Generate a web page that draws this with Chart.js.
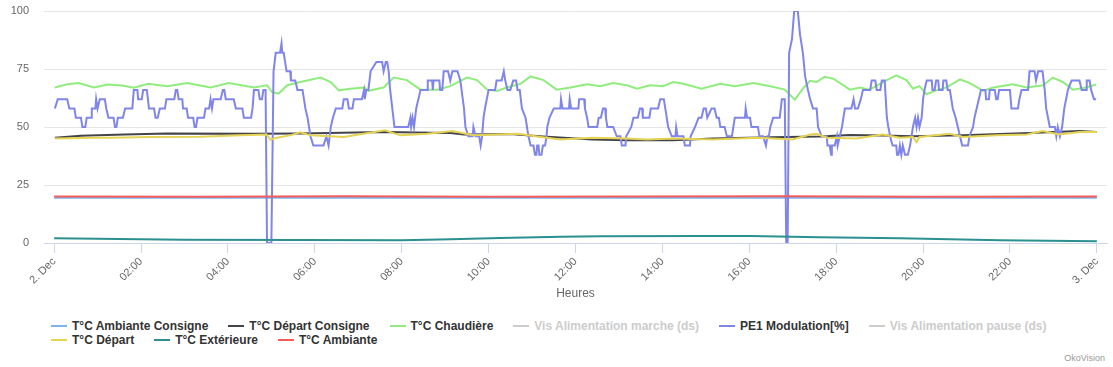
<!DOCTYPE html>
<html lang="fr">
<head>
<meta charset="UTF-8">
<title>OkoVision</title>
<script src="https://cdn.jsdelivr.net/npm/chart.js"></script>
<style>
    body { margin: 0; background: #fff; font-family: "Liberation Sans", Arial, sans-serif; }
    #wrap { position: relative; width: 1113px; height: 367px; overflow: hidden; }
    #chart { position: absolute; left: 0; top: 0; }
    #legend { position: absolute; left: 51px; top: 319px; }
    .row { display: flex; height: 14px; align-items: center; }
    .item { display: flex; align-items: center; margin-right: 20px; font-size: 12px; font-weight: bold; color: #333; white-space: nowrap; }
    .item .sym { width: 16px; height: 2px; margin-right: 5px; }
    .item.off { color: #ccc; }
    #credits { position: absolute; right: 8px; top: 353px; font-size: 9px; color: #999; }
</style>
</head>
<body>
<div id="wrap">
    <canvas id="chart" width="1113" height="305"></canvas>
    <div id="legend"></div>
    <div id="credits">OkoVision</div>
</div>
<script>
// minutes depuis 2. Dec 00:00, valeur
const xTickLabels = ['2. Dec', '02:00', '04:00', '06:00', '08:00', '10:00', '12:00',
    '14:00', '16:00', '18:00', '20:00', '22:00', '3. Dec'];
const xTicks = [0, 120, 240, 360, 480, 600, 720, 840, 960, 1080, 1200, 1320, 1440];
const yTicks = [0, 25, 50, 75, 100];

const seriesNames = ['T°C Ambiante Consigne', 'T°C Départ Consigne', 'T°C Chaudière',
    'Vis Alimentation marche (ds)', 'PE1 Modulation[%]', 'Vis Alimentation pause (ds)',
    'T°C Départ', 'T°C Extérieure', 'T°C Ambiante'];
const seriesColors = ['#7cb5ec', '#434348', '#90ed7d', '#cccccc', '#8085e9', '#cccccc',
    '#e4d354', '#2b908f', '#f45b5b'];
const hiddenSeries = [3, 5];

const ambianteConsigne = [[0, 19.5], [1440, 19.5]];

const departConsigne = [[1, 45.4], [37, 46.2], [97, 46.8], [156, 47.2], [276, 47.1], [340, 47.2],
    [455, 47.8], [547, 47.4], [566, 46.8], [630, 47.0], [675, 45.9], [744, 44.6], [791, 44.3],
    [855, 44.3], [910, 45.0], [989, 45.6], [1057, 45.9], [1099, 46.6], [1144, 46.3], [1186, 46.0],
    [1255, 46.4], [1347, 47.4], [1416, 48.3], [1440, 47.8]];

const chaudiere = [[1, 67.0], [18, 68.4], [34, 69.0], [55, 67.0], [74, 68.3], [94, 67.9], [110, 66.9],
    [130, 68.6], [156, 67.6], [184, 69.0], [216, 67.0], [241, 69.0], [276, 67.0], [294, 68.0],
    [301, 65.0], [310, 64.4], [322, 68.0], [340, 69.4], [368, 71.3], [382, 69.4], [393, 65.8],
    [409, 66.5], [428, 67.0], [434, 65.6], [455, 67.0], [469, 71.3], [487, 70.2], [506, 66.1],
    [529, 66.1], [547, 67.6], [570, 71.3], [584, 70.2], [598, 66.1], [612, 65.5], [625, 67.0],
    [644, 68.6], [658, 71.8], [676, 70.2], [694, 66.1], [713, 67.0], [736, 68.4], [754, 67.6],
    [772, 69.0], [791, 68.0], [805, 66.5], [823, 68.0], [841, 67.6], [855, 69.4], [869, 68.6],
    [894, 66.5], [920, 68.6], [940, 67.6], [966, 69.0], [989, 67.6], [1009, 66.1], [1023, 61.8],
    [1034, 66.5], [1044, 69.9], [1053, 69.4], [1064, 71.6], [1076, 70.8], [1099, 66.1], [1113, 67.0],
    [1126, 66.1], [1150, 70.2], [1163, 72.3], [1177, 70.2], [1186, 66.5], [1195, 67.6], [1205, 64.1],
    [1218, 65.8], [1232, 67.0], [1251, 70.5], [1264, 69.0], [1283, 65.6], [1297, 67.0], [1324, 68.4],
    [1343, 67.0], [1366, 68.0], [1379, 71.3], [1393, 69.4], [1407, 66.1], [1425, 67.0], [1439, 68.3]];

const modulation = [[1,58],[5,62],[18,62],[21,58],[28,58],[30,54],[37,54],[39,50],[43,50],[45,54],[51,54],
    [52,58],[57,58],[58,62],[60,58],[63,62],[70,62],[72,58],[73,58],[75,54],[82,54],[84,50],[86,50],[88,54],
    [95,54],[98,58],[108,58],[110,66],[115,66],[116,62],[121,62],[123,66],[128,66],[131,58],[138,58],[140,54],
    [143,54],[146,58],[153,58],[155,62],[166,62],[168,66],[170,66],[172,62],[177,62],[178,58],[183,58],[185,54],
    [192,54],[194,50],[196,50],[198,54],[207,54],[209,58],[214,58],[216,62],[218,58],[220,62],[230,62],[233,66],
    [235,66],[237,62],[248,62],[251,58],[260,58],[262,54],[272,54],[274,58],[276,66],[282,66],[284,62],[287,62],
    [289,66],[292,66],[294,0],[300,0],[303,74],[306,82],[312,82],[314,86],[315,82],[317,82],[321,74],[326,74],
    [327,70],[333,70],[336,66],[343,66],[345,62],[347,58],[350,54],[352,50],[354,46],[358,42],[372,42],[376,46],
    [379,42],[382,50],[385,54],[389,58],[398,58],[400,62],[405,62],[407,58],[412,58],[414,62],[425,62],[428,66],
    [429,62],[431,66],[434,66],[437,74],[445,78],[453,78],[455,74],[458,78],[460,78],[462,74],[464,66],[467,58],
    [470,50],[489,50],[492,54],[493,50],[495,54],[497,50],[500,58],[506,66],[515,66],[516,70],[522,70],[523,66],
    [524,70],[532,70],[533,66],[536,66],[538,74],[544,74],[547,70],[550,74],[557,74],[561,70],[566,58],[568,50],
    [572,46],[578,46],[579,50],[582,46],[587,46],[589,42],[591,46],[593,54],[595,58],[600,66],[609,66],[611,70],
    [618,70],[621,74],[623,70],[626,66],[630,66],[634,70],[638,70],[640,66],[643,66],[646,58],[651,54],[653,50],
    [655,46],[658,42],[662,42],[664,38],[666,38],[667,42],[669,42],[670,38],[673,38],[675,42],[678,42],[680,46],
    [681,50],[684,54],[690,58],[699,58],[700,62],[702,58],[711,58],[712,62],[714,58],[724,58],[725,62],[732,62],
    [733,58],[736,54],[738,50],[750,50],[752,54],[755,54],[758,58],[761,58],[762,54],[764,50],[772,50],[777,46],
    [782,46],[784,42],[789,42],[790,46],[797,50],[800,54],[806,54],[809,58],[812,58],[813,54],[822,54],[824,58],
    [834,58],[837,62],[842,62],[844,58],[848,50],[853,46],[858,46],[859,50],[861,46],[869,46],[871,42],[878,42],
    [879,46],[885,50],[890,54],[894,54],[897,58],[900,58],[902,54],[908,58],[912,58],[915,54],[918,54],[920,50],
    [926,50],[929,46],[936,46],[938,50],[940,54],[954,54],[955,58],[957,54],[961,54],[963,50],[972,50],[974,46],
    [979,46],[983,42],[985,46],[987,46],[989,50],[993,54],[1002,54],[1005,62],[1009,62],[1011,0],[1013,0],
    [1015,82],[1019,88],[1022,100],[1027,100],[1030,90],[1034,82],[1037,72],[1041,66],[1044,62],[1048,58],
    [1053,58],[1055,50],[1060,46],[1067,46],[1068,42],[1071,42],[1073,38],[1074,42],[1078,42],[1081,46],
    [1082,42],[1085,46],[1088,50],[1090,54],[1092,58],[1101,58],[1104,62],[1106,58],[1110,58],[1114,62],
    [1117,66],[1127,66],[1129,70],[1134,70],[1136,66],[1141,66],[1143,70],[1147,70],[1150,54],[1152,50],
    [1156,44],[1158,42],[1163,42],[1164,38],[1166,38],[1168,42],[1170,38],[1172,42],[1175,38],[1179,38],
    [1182,42],[1184,46],[1186,50],[1189,54],[1191,50],[1193,54],[1195,50],[1198,54],[1200,62],[1202,66],
    [1205,70],[1212,70],[1213,66],[1216,66],[1218,70],[1221,70],[1222,66],[1227,66],[1228,70],[1232,70],
    [1234,66],[1237,66],[1239,62],[1241,58],[1245,54],[1248,50],[1251,46],[1254,42],[1262,42],[1264,46],
    [1269,50],[1271,54],[1274,58],[1277,62],[1280,66],[1286,66],[1287,62],[1291,62],[1292,66],[1299,66],
    [1301,62],[1303,62],[1305,66],[1320,66],[1322,58],[1331,58],[1333,62],[1336,66],[1345,66],[1347,74],
    [1354,74],[1356,70],[1359,74],[1365,74],[1368,66],[1370,58],[1375,50],[1382,50],[1384,46],[1386,50],
    [1389,46],[1392,50],[1395,58],[1400,66],[1405,70],[1416,70],[1419,66],[1425,66],[1426,70],[1430,70],
    [1432,66],[1436,62],[1439,62]];

const depart = [[1, 45.0], [55, 45.4], [78, 45.4], [133, 45.7], [202, 45.8], [258, 46.4], [293, 46.8],
    [299, 44.5], [306, 45.3], [327, 46.5], [340, 47.7], [354, 46.4], [400, 45.7], [427, 47.1], [457, 48.6],
    [478, 46.4], [515, 47.1], [550, 48.3], [579, 46.4], [640, 47.1], [667, 45.9], [699, 44.6], [744, 45.4],
    [791, 45.0], [819, 44.6], [855, 45.0], [910, 44.6], [971, 45.4], [1020, 44.6], [1044, 46.8], [1053, 47.1],
    [1067, 45.4], [1108, 45.0], [1144, 46.8], [1168, 45.4], [1186, 45.7], [1191, 43.5], [1195, 45.7],
    [1237, 47.1], [1255, 45.7], [1302, 46.4], [1343, 46.8], [1365, 48.3], [1388, 46.8], [1416, 47.8], [1440, 47.8]];

const exterieure = [[0, 2.1], [60, 1.8], [180, 1.4], [340, 1.3], [480, 1.2], [548, 1.6], [616, 2.2],
    [700, 2.7], [755, 2.9], [892, 3.0], [961, 3.0], [1057, 2.5], [1168, 2.0], [1306, 1.2], [1440, 0.8]];

const ambiante = [[0, 20.0], [200, 19.9], [400, 20.1], [600, 19.9], [800, 20.0], [1000, 20.1],
    [1200, 19.9], [1440, 20.0]];

const seriesData = [ambianteConsigne, departConsigne, chaudiere, [], modulation, [], depart, exterieure, ambiante];
const legendBreak = 6;

Chart.defaults.font.family = '"Liberation Sans", Arial, sans-serif';

const datasets = seriesNames.map((name, i) => ({
    label: name,
    data: seriesData[i].map(p => ({ x: p[0], y: p[1] })),
    borderColor: seriesColors[i],
    backgroundColor: seriesColors[i],
    borderWidth: 2,
    pointRadius: 0,
    tension: 0,
    fill: false,
    hidden: hiddenSeries.includes(i),
    order: seriesNames.length - i
}));

const chart = new Chart(document.getElementById('chart'), {
    type: 'line',
    data: { datasets: datasets },
    options: {
        responsive: false,
        animation: false,
        layout: { padding: { left: 0, right: 6, top: 11, bottom: 0 } },
        plugins: { legend: { display: false }, tooltip: { enabled: false } },
        scales: {
            x: {
                type: 'linear',
                min: -14,
                max: 1454,
                afterFit: s => { s.height = 62; },
                afterBuildTicks: s => { s.ticks = xTicks.map(v => ({ value: v })); },
                ticks: {
                    autoSkip: false,
                    maxRotation: 45,
                    minRotation: 45,
                    padding: 2,
                    color: '#666',
                    font: { size: 11 },
                    callback: v => xTickLabels[xTicks.indexOf(v)]
                },
                grid: { drawOnChartArea: false, color: '#ccd6eb', tickLength: 10 },
                border: { color: '#ccd6eb' },
                title: { display: true, text: 'Heures', color: '#666', font: { size: 12 }, padding: { top: 0, bottom: 4 } }
            },
            y: {
                min: 0,
                max: 100,
                afterFit: s => { s.width = 44; },
                afterBuildTicks: s => { s.ticks = yTicks.map(v => ({ value: v })); },
                ticks: { color: '#666', font: { size: 11 }, padding: 0 },
                grid: { color: '#e6e6e6', drawTicks: true, tickLength: 15, tickColor: 'rgba(0,0,0,0)' },
                border: { display: false }
            }
        }
    }
});

// légende façon Highcharts
const legend = document.getElementById('legend');
let row = null;
chart.data.datasets.forEach((ds, i) => {
    if (i === 0 || i === legendBreak) {
        row = document.createElement('div');
        row.className = 'row';
        legend.appendChild(row);
    }
    const item = document.createElement('div');
    item.className = 'item' + (ds.hidden ? ' off' : '');
    const sym = document.createElement('span');
    sym.className = 'sym';
    sym.style.background = ds.hidden ? '#cccccc' : ds.borderColor;
    item.appendChild(sym);
    item.appendChild(document.createTextNode(ds.label));
    row.appendChild(item);
});
</script>
</body>
</html>
